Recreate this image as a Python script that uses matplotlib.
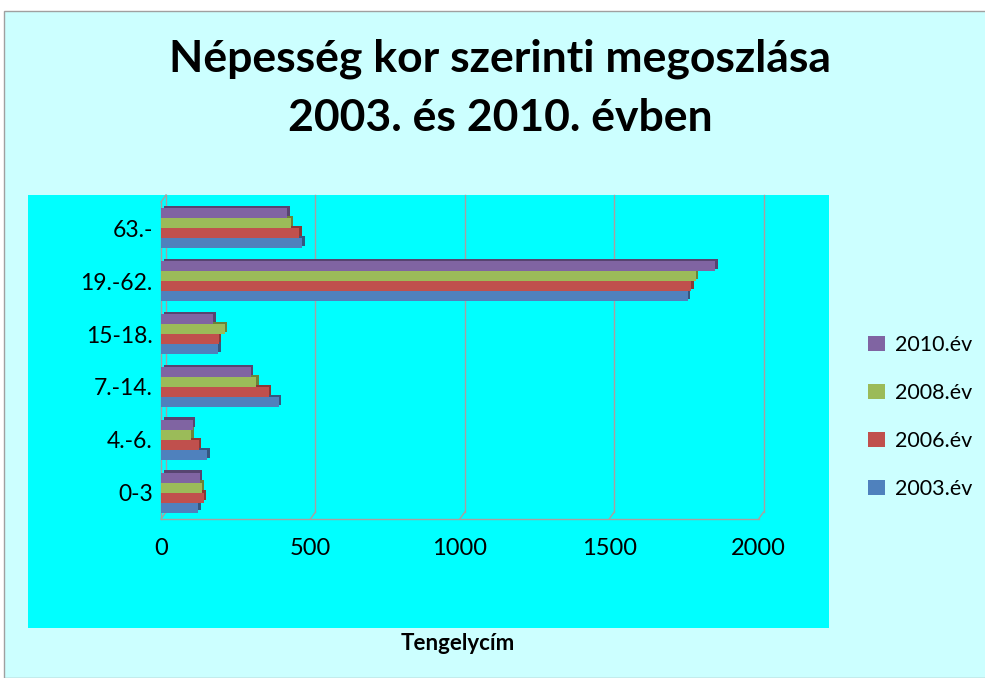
import matplotlib
matplotlib.use("Agg")
import matplotlib.pyplot as plt
import matplotlib.patheffects as pe
from matplotlib.patches import Rectangle
from matplotlib.lines import Line2D
from matplotlib.transforms import ScaledTranslation, blended_transform_factory
import numpy as np

categories = ["0-3", "4.-6.", "7.-14.", "15-18.", "19.-62.", "63.-"]
series_names = ["2003.év", "2006.év", "2008.év", "2010.év"]
v2003 = [125, 155, 394, 191, 1763, 473]
v2006 = [143, 127, 361, 194, 1774, 463]
v2008 = [136, 101, 318, 214, 1789, 435]
v2010 = [130, 106, 301, 175, 1855, 423]
values = [v2003, v2006, v2008, v2010]
xticks = [0, 500, 1000, 1500, 2000]
title = "Népesség kor szerinti megoszlása\n2003. és 2010. évben"
xlabel = "Tengelycím"

colors = ["#4F81BD", "#C0504D", "#9BBB59", "#8064A2"]
dark = ["#34577F", "#8A3735", "#6B8338", "#574470"]

FONT = ["Lato", "DejaVu Sans"]
plt.rcParams["font.family"] = FONT

W, H = 985, 678
fig = plt.figure(figsize=(W / 100, H / 100), dpi=100)
fig.patch.set_facecolor("white")

def px(x0, y0, x1, y1):
    return [x0 / W, 1 - y1 / H, (x1 - x0) / W, (y1 - y0) / H]

# chart area & plot area backgrounds
fig.patches.append(Rectangle((4 / W, 0), 1, 1 - 11 / H, transform=fig.transFigure,
                             facecolor="#CCFFFF", edgecolor="#A0A0A0", lw=1.0, zorder=-2))
fig.patches.append(Rectangle((28 / W, 1 - 628 / H), (829 - 28) / W, (628 - 195) / H,
                             transform=fig.transFigure, facecolor="#00FFFF",
                             edgecolor="none", zorder=-1))

ax = fig.add_axes(px(161, 202, 758.6, 519))
ax.set_zorder(2)
ax.set_facecolor("none")
ax.set_xlim(0, 2000)
ax.set_ylim(-0.5, len(categories) - 0.5)

y = np.arange(len(categories))
h = 0.19
for i, (vals, c, d) in enumerate(zip(values, colors, dark)):
    bars = ax.barh(y + (i - 1.5) * h, vals, height=h, color=c, edgecolor="none",
                   label=series_names[i], zorder=3 + i)
    for b in bars:
        b.set_path_effects([pe.SimplePatchShadow(offset=(1.8, 1.6), shadow_rgbFace=d, alpha=1.0),
                            pe.Normal()])

for s in ax.spines.values():
    s.set_visible(False)

gc = "#A8A0A0"
off = ScaledTranslation(5 / 100, 7 / 100, fig.dpi_scale_trans)
tb = blended_transform_factory(ax.transData, ax.transAxes)
# back gridlines (offset into depth)
for xv in xticks:
    ax.plot([xv, xv], [0, 1], color=gc, lw=1.0, transform=tb + off, clip_on=False, zorder=1)
# floor front line, left wall front edge
ax.plot([0, 2000], [0, 0], color=gc, lw=1.0, transform=tb, clip_on=False, zorder=2)
ax.plot([0, 0], [0, 1], color=gc, lw=1.0, transform=tb, clip_on=False, zorder=2)
# depth connectors
fig.canvas.draw()
for xv, yv in [(t, 0) for t in xticks] + [(0, 1)]:
    p0 = tb.transform((xv, yv))
    p1 = (tb + off).transform((xv, yv))
    ax.add_line(Line2D([p0[0], p1[0]], [p0[1], p1[1]], transform=None,
                       color=gc, lw=1.0, zorder=2, clip_on=False))

ax.set_xticks(xticks)
ax.set_xticklabels([str(t) for t in xticks], fontsize=17)
ax.set_yticks(y)
ax.set_yticklabels(categories, fontsize=16.5)
ax.tick_params(axis="x", length=0, pad=14)
ax.tick_params(axis="y", length=0, pad=6)

fig.text(500 / W, 1 - 88 / H, title, ha="center", va="center", fontsize=32,
         fontweight="bold", linespacing=1.58)
fig.text(458 / W, 1 - 643 / H, xlabel, ha="center", va="center", fontsize=16,
         fontweight="bold")

handles, labels = ax.get_legend_handles_labels()
leg = fig.legend(handles[::-1], labels[::-1], loc="center left",
                 bbox_to_anchor=(849 / W, 1 - 417 / H), frameon=False, fontsize=15.5,
                 handlelength=0.75, handleheight=0.75, handletextpad=0.5,
                 labelspacing=1.3)
for hd in leg.legend_handles:
    hd.set_path_effects([])

fig.savefig("out.png", dpi=100)
